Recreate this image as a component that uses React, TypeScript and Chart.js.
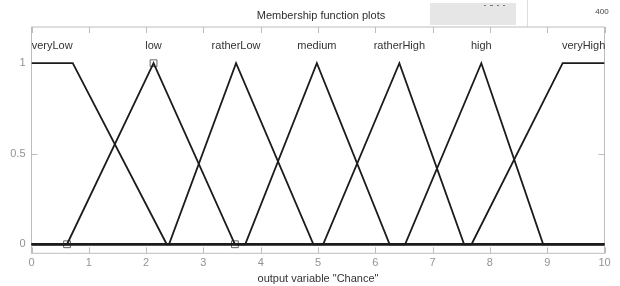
import React, { useEffect, useRef } from 'react';
import { Chart, registerables } from 'chart.js';

Chart.register(...registerables);

// ---- data ----
const xTicks = [0, 1, 2, 3, 4, 5, 6, 7, 8, 9, 10];
const yTicks = [0, 0.5, 1];
const mfNames = ['veryLow', 'low', 'ratherLow', 'medium', 'ratherHigh', 'high', 'veryHigh'];

const veryLowX = [0, 0.72, 2.36, 10];
const veryLowY = [1, 1, 0, 0];
const lowX = [0, 0.62, 2.13, 3.55, 10];
const lowY = [0, 0, 1, 0, 0];
const ratherLowX = [0, 2.4, 3.57, 4.92, 10];
const ratherLowY = [0, 0, 1, 0, 0];
const mediumX = [0, 3.73, 4.98, 6.25, 10];
const mediumY = [0, 0, 1, 0, 0];
const ratherHighX = [0, 5.09, 6.42, 7.55, 10];
const ratherHighY = [0, 0, 1, 0, 0];
const highX = [0, 6.52, 7.85, 8.93, 10];
const highY = [0, 0, 1, 0, 0];
const veryHighX = [0, 7.68, 9.27, 10];
const veryHighY = [0, 0, 1, 1];

const mfX = [veryLowX, lowX, ratherLowX, mediumX, ratherHighX, highX, veryHighX];
const mfY = [veryLowY, lowY, ratherLowY, mediumY, ratherHighY, highY, veryHighY];

const markerX = [0.62, 2.13, 3.55];
const markerY = [0, 1, 0];

const titleText = 'Membership function plots';
const xAxisTitle = 'output variable "Chance"';
const sideValue = '400';

const FONT = '"Liberation Sans", Arial, sans-serif';

function peakCenter(xs: number[], ys: number[]): number {
  const tops = xs.filter((_, i) => ys[i] === 1);
  return (Math.min(...tops) + Math.max(...tops)) / 2;
}

const decorPlugin = {
  id: 'decor',
  beforeDraw(chart: any) {
    const ctx = chart.ctx;
    ctx.save();
    ctx.fillStyle = '#ffffff';
    ctx.fillRect(0, 0, chart.width, chart.height);
    // title
    ctx.fillStyle = '#2e2e2e';
    ctx.font = `11px ${FONT}`;
    ctx.textAlign = 'center';
    ctx.textBaseline = 'middle';
    ctx.fillText(titleText, 321, 16);
    // gray panel
    ctx.fillStyle = '#e6e6e6';
    ctx.fillRect(430, 3, 86, 22);
    ctx.fillStyle = '#777777';
    ctx.fillRect(484, 5, 2, 1);
    ctx.fillRect(490, 5, 3, 1);
    ctx.fillRect(497, 5, 2, 1);
    ctx.fillRect(503, 5, 2, 1);
    ctx.strokeStyle = '#dddddd';
    ctx.lineWidth = 1;
    ctx.beginPath();
    ctx.moveTo(527.5, 0);
    ctx.lineTo(527.5, 27);
    ctx.stroke();
    ctx.fillStyle = '#444444';
    ctx.font = `8px ${FONT}`;
    ctx.fillText(sideValue, 602, 12);
    ctx.restore();
  },
  beforeDatasetsDraw(chart: any) {
    const ctx = chart.ctx;
    const xs = chart.scales.x;
    const ys = chart.scales.y;
    const { left, right, top, bottom } = chart.chartArea;
    ctx.save();
    ctx.strokeStyle = '#bdbdbd';
    ctx.lineWidth = 1;
    ctx.strokeRect(left, top, right - left, bottom - top);
    ctx.beginPath();
    xTicks.forEach((v) => {
      const px = Math.round(xs.getPixelForValue(v)) + 0.5;
      ctx.moveTo(px, bottom);
      ctx.lineTo(px, bottom - 6);
      ctx.moveTo(px, top);
      ctx.lineTo(px, top + 6);
    });
    yTicks.forEach((v) => {
      const py = Math.round(ys.getPixelForValue(v)) + 0.5;
      ctx.moveTo(left, py);
      ctx.lineTo(left + 6, py);
      ctx.moveTo(right, py);
      ctx.lineTo(right - 6, py);
    });
    ctx.stroke();
    // tick labels
    ctx.fillStyle = '#939393';
    ctx.font = `11px ${FONT}`;
    ctx.textAlign = 'center';
    ctx.textBaseline = 'middle';
    xTicks.forEach((v) => {
      ctx.fillText(String(v), xs.getPixelForValue(v), 263);
    });
    ctx.textAlign = 'right';
    yTicks.forEach((v) => {
      ctx.fillText(String(v), left - 6, ys.getPixelForValue(v));
    });
    // x axis title
    ctx.fillStyle = '#333333';
    ctx.textAlign = 'center';
    ctx.fillText(xAxisTitle, (left + right) / 2, 279);
    // MF labels
    mfNames.forEach((name, i) => {
      const c = xs.getPixelForValue(peakCenter(mfX[i], mfY[i]));
      const w = ctx.measureText(name).width;
      let cx = c;
      if (cx - w / 2 < left - 1) cx = left - 1 + w / 2;
      if (cx + w / 2 > right + 1) cx = right + 1 - w / 2;
      ctx.fillText(name, cx, 46);
    });
    ctx.restore();
  },
};

export default function App() {
  const ref = useRef<HTMLCanvasElement | null>(null);
  useEffect(() => {
    document.body.style.margin = '0';
    const canvas = ref.current;
    if (!canvas) return;
    const datasets: any[] = mfNames.map((name, i) => ({
      type: 'line',
      label: name,
      data: mfX[i].map((x, j) => ({ x, y: mfY[i][j] })),
      borderColor: '#1c1c1c',
      borderWidth: 1.8,
      pointRadius: 0,
      tension: 0,
      fill: false,
    }));
    datasets.push({
      type: 'line',
      label: 'params',
      data: markerX.map((x, j) => ({ x, y: markerY[j] })),
      showLine: false,
      pointStyle: 'rect',
      pointRadius: 4.8,
      borderColor: '#666666',
      backgroundColor: 'rgba(255,255,255,0)',
      borderWidth: 1,
    });
    const chart = new Chart(canvas, {
      type: 'line',
      data: { datasets },
      options: {
        responsive: false,
        animation: false,
        devicePixelRatio: 1,
        layout: { padding: { top: 27, right: 15.5, left: 0, bottom: 0 } },
        plugins: { legend: { display: false }, tooltip: { enabled: false }, title: { display: false } },
        scales: {
          x: {
            type: 'linear',
            min: 0,
            max: 10,
            ticks: { display: false },
            grid: { display: false },
            border: { display: false },
            afterFit: (s: any) => { s.height = 32.7; },
          },
          y: {
            type: 'linear',
            min: -0.05,
            max: 1.2,
            ticks: { display: false },
            grid: { display: false },
            border: { display: false },
            afterFit: (s: any) => { s.width = 31.5; },
          },
        },
      },
      plugins: [decorPlugin],
    } as any);
    return () => chart.destroy();
  }, []);
  return <canvas ref={ref} width={620} height={286} style={{ display: 'block' }} />;
}
